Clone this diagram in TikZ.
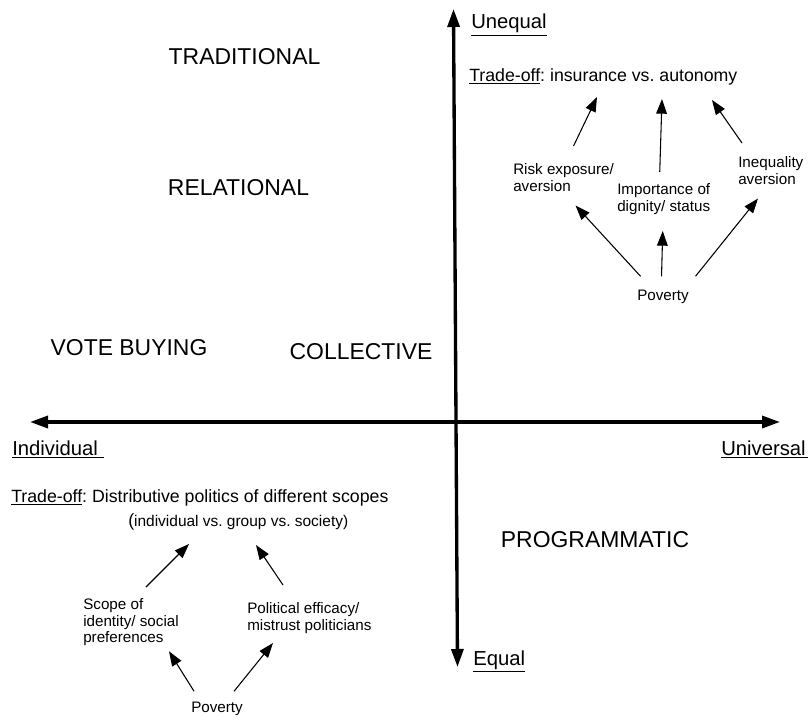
\documentclass[tikz,border=0pt]{standalone}
\usepackage{fontspec}
\setmainfont{Liberation Sans}
\usetikzlibrary{calc,arrows.meta}
\frenchspacing
\tikzset{
  axis/.style={line width=2.5pt, {Triangle[length=13.5pt,width=9pt]}-{Triangle[length=13.5pt,width=9pt]}},
  arr/.style={line width=0.8pt, -{Triangle[length=11pt,width=8pt]}},
  big/.style={inner sep=0pt, font=\fontsize{17.2}{20}\selectfont},
  axlab/.style={inner sep=0pt, anchor=base west, font=\fontsize{15.2}{18}\selectfont},
  trade/.style={inner sep=0pt, anchor=base west, font=\fontsize{13.3}{16}\selectfont},
  small/.style={inner sep=0pt, align=left, font=\fontsize{11.4}{12.6}\selectfont},
}

\begin{document}
\begin{tikzpicture}[x=0.75pt,y=-0.75pt]
  \useasboundingbox (0,0) rectangle (808,717);
  % axes
  \coordinate (W) at (30,422);
  \coordinate (E) at (780,422);
  \coordinate (N) at (453.5,9);
  \coordinate (S) at (457.5,667);
  \draw[axis] (W) -- (E);
  \draw[axis] (N) -- (S);
  % axis labels
  \node[axlab] (uneq) at (471,29) {\underline{Unequal}};
  \node[axlab] (eq) at (473,665) {\underline{Equal}};
  \node[axlab] (indiv) at (12,455.5) {\underline{Individual\ }};
  \node[axlab] (univ) at (721,455.5) {\underline{Universal\ }};
  % quadrant labels
  \node[big] (trad) at (244.5,57) {TRADITIONAL};
  \node[big] (rel) at (238.5,188) {RELATIONAL};
  \node[big] (vote) at (129,348) {VOTE BUYING};
  \node[big] (coll) at (361,352) {COLLECTIVE};
  \node[big] (prog) at (595,540) {PROGRAMMATIC};

  % upper right mechanism
  \node[trade] (tradeU) at (469,81.5) {\underline{Trade-off}: insurance vs. autonomy};
  \node[small, anchor=north west] (risk) at (513,163) {Risk exposure/\\aversion};
  \node[small, anchor=north west] (dign) at (617,183) {Importance of\\dignity/ status};
  \node[small, anchor=north west] (ineq) at (738,156) {Inequality\\aversion};
  \node[small, anchor=base west] (povU) at (637,300) {Poverty};
  \draw[arr] ($(risk.north)+(10,-17)$) -- ($(tradeU.base west)+(128,15.5)$);
  \draw[arr] ($(dign.north)+(-4,-11)$) -- ($(tradeU.base west)+(193,17.5)$);
  \draw[arr] ($(ineq.north west)+(4,-13)$) -- ($(tradeU.base west)+(243,18.5)$);
  \draw[arr] ($(povU.north)+(-22.5,-13)$) -- ($(risk.south)+(12,14)$);
  \draw[arr] ($(povU.north)+(-1.5,-13)$) -- ($(dign.south)+(-1,16.5)$);
  \draw[arr] ($(povU.north)+(32.5,-13)$) -- ($(ineq.south west)+(20,14)$);

  % lower left mechanism
  \node[trade] (tradeL) at (11,502.5) {\underline{Trade-off}: Distributive politics of different scopes};
  \node[trade, font=\fontsize{11.6}{14}\selectfont] (scopes) at (128,526.5)
    {{\fontsize{13.3}{16}\selectfont(}individual vs. group vs. society)};
  \node[small, anchor=north west] (ident) at (83,598) {Scope of\\identity/ social\\preferences};
  \node[small, anchor=north west] (effic) at (247,602) {Political efficacy/\\mistrust politicians};
  \node[small, anchor=base west] (povL) at (191,712.5) {Poverty};
  \draw[arr] ($(ident.north west)+(63,-11)$) -- ($(scopes.base west)+(61,17.5)$);
  \draw[arr] ($(effic.north west)+(36,-17)$) -- ($(scopes.base west)+(128,18.5)$);
  \draw[arr] ($(povL.north)+(-23,-10.5)$) -- ($(ident.south east)+(-10,5)$);
  \draw[arr] ($(povL.north)+(17,-10.5)$) -- ($(effic.south west)+(26,9.5)$);
\end{tikzpicture}
\end{document}
